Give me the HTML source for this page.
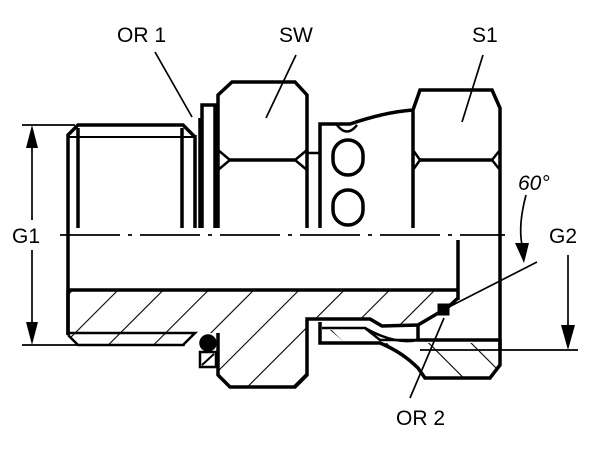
<!DOCTYPE html>
<html><head><style>
html,body{margin:0;padding:0;background:#fff;}
svg{display:block;}
text{font-family:"Liberation Sans",Arial,sans-serif;font-size:21px;fill:#000;}
</style></head><body>
<svg width="600" height="454" viewBox="0 0 600 454" xmlns="http://www.w3.org/2000/svg">
<defs>
<pattern id="h" patternUnits="userSpaceOnUse" width="32" height="32" patternTransform="rotate(45)">
<line x1="0" y1="0" x2="0" y2="32" stroke="#000" stroke-width="2.2"/>
</pattern>
<pattern id="h2" patternUnits="userSpaceOnUse" width="30" height="30" patternTransform="rotate(-45)">
<line x1="0" y1="0" x2="0" y2="30" stroke="#000" stroke-width="2.2"/>
</pattern>
</defs>
<g fill="none" stroke="#000" stroke-width="3.5" stroke-linejoin="miter">
<path d="M68,290 L458,290 L458,298 L440,310 L418,325 L385,326 L380,320 L307,319 L307,375 L295,387 L230,387 L218,375 L218,333 L195,333 L183,345 L78,345 L68,335 Z" fill="url(#h)" stroke="none"/>
<path d="M380,343 L500,343 L500,365 L490,378 L425,378 L418,368 Q400,352 380,343 Z" fill="url(#h2)" stroke="none"/>
<path d="M330,330 L365,330 L380,343 L345,343 Z" fill="url(#h2)" stroke="none"/>

<path d="M68,335 L68,135 L78,125 L183,125 L195,137"/>
<line x1="68" y1="137" x2="195" y2="137" stroke-width="2"/>
<line x1="78" y1="128" x2="78" y2="228"/>
<line x1="182" y1="128" x2="182" y2="228"/>
<line x1="195" y1="135" x2="195" y2="228"/>
<line x1="200" y1="118" x2="200" y2="228"/>
<path d="M202,228 L202,105 L215,105 L215,228"/>
<path d="M218,228 L218,95 L232,82 L295,82 L307,95 L307,228"/>
<line x1="230" y1="160" x2="295" y2="160"/>
<path d="M218,150 L230,160 L218,170 M307,150 L295,160 L307,170" stroke-width="2.5"/>
<line x1="307" y1="153" x2="320" y2="153" stroke-width="2.5"/>
<path d="M320,228 L320,124 L350,124 Q385,112 413,110"/>
<path d="M337,125 Q347,138 357,125" stroke-width="2.5"/>
<rect x="333" y="140" width="30" height="35" rx="15"/>
<rect x="333" y="190" width="30" height="35" rx="15"/>
<path d="M413,228 L413,110 L420,90 L492,90 L500,108 L500,350"/>
<line x1="420" y1="160" x2="492" y2="160"/>
<path d="M413,150 L420,160 L413,170 M500,150 L492,160 L500,170" stroke-width="2.5"/>

<path d="M68,290 L458,290"/>
<line x1="458" y1="240" x2="458" y2="300"/>
<path d="M458,298 L445,310"/>
<path d="M68,335 L78,345 L183,345 L195,333 L68,333" stroke-width="2.5"/>
<path d="M68,290 L68,335"/>
<path d="M218,333 L218,375 L230,387 L295,387 L307,375 L307,319 L320,319"/>
<path d="M320,319 L370,319 L382,326 L418,325 L440,312" />
<path d="M320,322 L320,343 L380,343 Q402,352 418,368 L425,378 L490,378 L500,365 L500,340 L418,340 L418,325"/>
<path d="M322,328 L365,328 L380,340 L500,340" stroke-width="2.5"/>
<path d="M365,328 Q395,345 418,340" stroke-width="2.5"/>
<circle cx="208" cy="343" r="7" fill="#000"/>
<rect x="200" y="352" width="16" height="15" stroke-width="2.5"/>
<line x1="202" y1="365" x2="214" y2="354" stroke-width="2"/>
<rect x="438" y="304" width="11" height="11" fill="#000" stroke-width="1"/>
</g>

<g fill="none" stroke="#000" stroke-width="1.7">
<path d="M60,235 L505,235" stroke-dasharray="60,8,4,8"/>
<line x1="22" y1="125" x2="75" y2="125"/>
<line x1="22" y1="345" x2="185" y2="345"/>
<line x1="32" y1="135" x2="32" y2="220"/>
<line x1="32" y1="250" x2="32" y2="335"/>
<line x1="420" y1="350" x2="578" y2="350"/>
<line x1="568" y1="255" x2="568" y2="335"/>
<line x1="155" y1="52" x2="192" y2="117"/>
<line x1="296" y1="55" x2="266" y2="118"/>
<line x1="483" y1="55" x2="462" y2="122"/>
<line x1="443" y1="310" x2="537" y2="262"/>
<line x1="444" y1="318" x2="410" y2="398"/>
<path d="M526,195 Q518,225 522,245"/>
</g>
<g fill="#000">
<path d="M32,125 L26,148 L38,148 Z"/>
<path d="M32,345 L26,322 L38,322 Z"/>
<path d="M568,350 L561,325 L575,325 Z"/>
<path d="M524,263 L515,243 L529,243 Z"/>
</g>
<text x="117" y="42">OR 1</text>
<text x="279" y="42">SW</text>
<text x="472" y="42">S1</text>
<text x="12" y="243">G1</text>
<text x="549" y="243">G2</text>
<text x="518" y="190" font-style="italic">60°</text>
<text x="396" y="425">OR 2</text>
</svg>
</body></html>
